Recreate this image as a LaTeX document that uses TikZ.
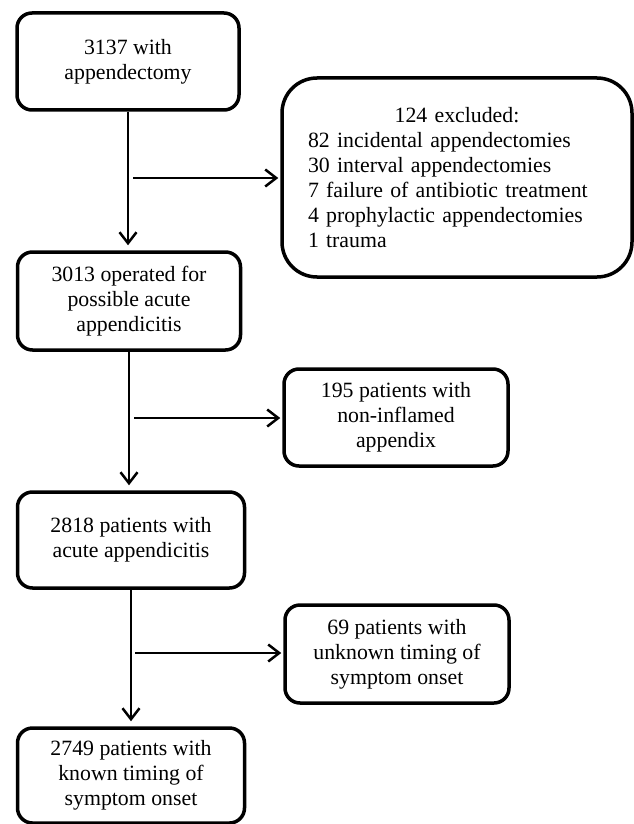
\documentclass[tikz,border=0pt]{standalone}
\usepackage{fontspec}
\setmainfont{Liberation Serif}
\usetikzlibrary{arrows.meta}
\begin{document}
\begin{tikzpicture}[x=1pt,y=-1pt,
  box/.style={draw, line width=3.5pt, rounded corners=15pt, align=center, inner sep=0pt,
    font=\fontsize{21.8}{25}\selectfont},
  arr/.style={line width=2.5pt, -{Straight Barb[length=11pt,width=17pt]}},
  down/.style={arr, shorten >=5pt},
  side/.style={arr, shorten >=2pt}]
\useasboundingbox (0,0) rectangle (633,824);
\node[box, minimum width=222pt, minimum height=97pt] (a) at (128,61.5) {3137 with\\appendectomy};
\node[box, minimum width=223pt, minimum height=98pt] (b) at (129,301) {3013 operated for\\possible acute\\appendicitis};
\node[box, rounded corners=35pt, minimum width=350pt, minimum height=199pt, text width=298pt, align=left] (x1) at (457,177.5)
  {\makebox[298pt][c]{124 excluded:}\\82 incidental appendectomies\\30 interval appendectomies\\7 failure of antibiotic treatment\\4 prophylactic appendectomies\\1 trauma};
\node[box, minimum width=224pt, minimum height=97pt] (x2) at (396,417.5) {195 patients with\\non-inflamed\\appendix};
\node[box, minimum width=227pt, minimum height=96pt] (c) at (131,540) {2818 patients with\\acute appendicitis};
\node[box, minimum width=224pt, minimum height=98pt] (x3) at (397,654) {69 patients with\\unknown timing of\\symptom onset};
\node[box, minimum width=227pt, minimum height=95pt] (d) at (131,775.5) {2749 patients with\\known timing of\\symptom onset};
\draw[down] (a.south) -- (a.south |- b.north);
\draw[down] (b.south) -- (b.south |- c.north);
\draw[down] (c.south) -- (c.south |- d.north);
\coordinate (j1) at (133,178);
\coordinate (j2) at (134,418);
\coordinate (j3) at (135,653);
\draw[side] (j1) -- (j1 -| x1.west);
\draw[side] (j2) -- (j2 -| x2.west);
\draw[side] (j3) -- (j3 -| x3.west);
\end{tikzpicture}
\end{document}
